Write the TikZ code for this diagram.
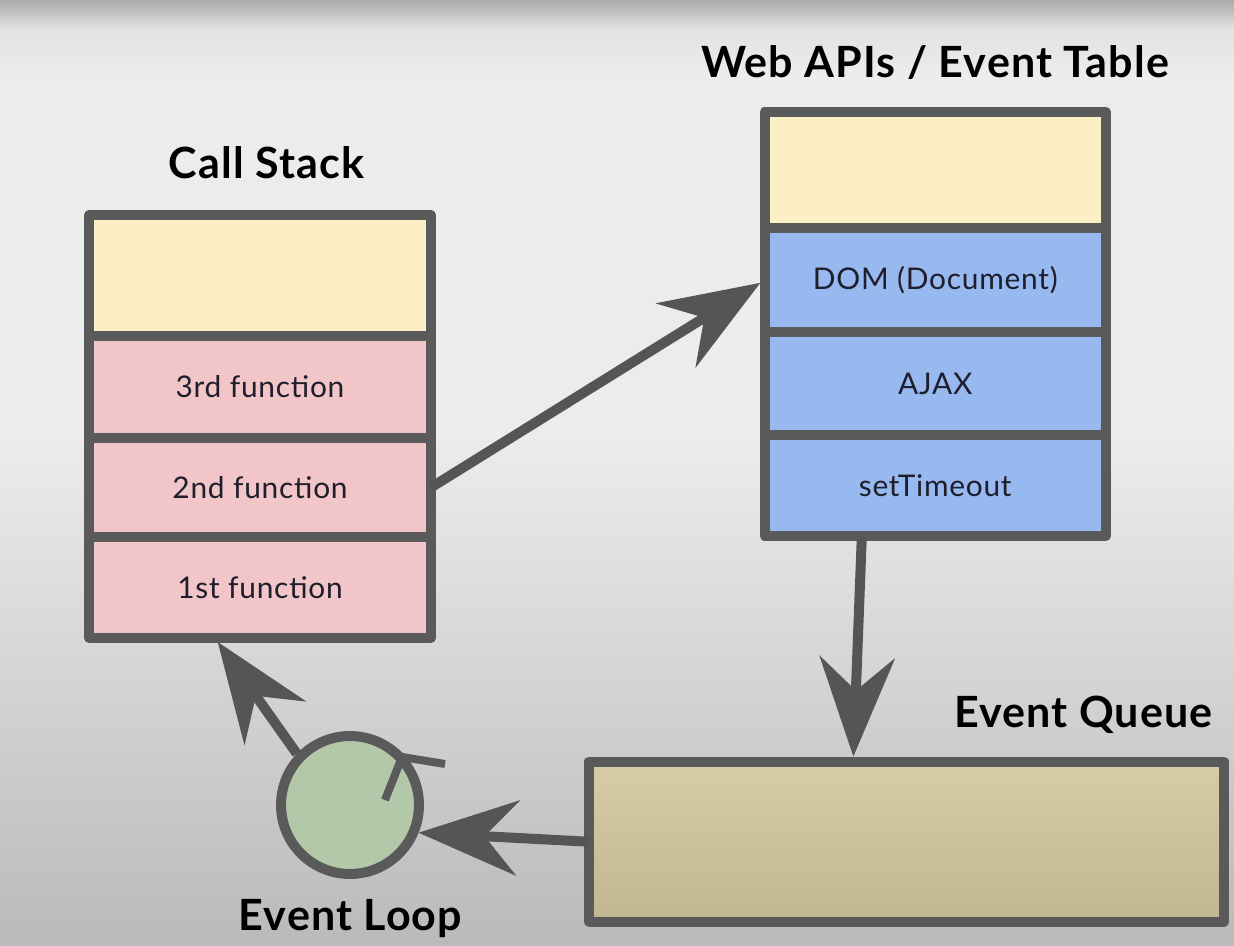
\documentclass[tikz,border=0pt]{standalone}
\usepackage{fontspec}
\setmainfont{Lato}
\newfontfamily\wideLato[LetterSpace=2.5]{Lato}
\usetikzlibrary{positioning,calc,arrows.meta}
\definecolor{frameGray}{RGB}{90,90,90}
\definecolor{arrowGray}{RGB}{85,85,85}
\definecolor{cellYellow}{RGB}{252,239,197}
\definecolor{cellPink}{RGB}{242,198,200}
\definecolor{cellBlue}{RGB}{152,185,239}
\definecolor{queueTop}{RGB}{216,204,164}
\definecolor{queueBot}{RGB}{194,182,147}
\definecolor{loopGreen}{RGB}{178,200,168}
\definecolor{textDark}{RGB}{30,30,45}
\definecolor{bgTop}{RGB}{170,170,170}
\definecolor{bgTopLight}{RGB}{226,226,226}
\definecolor{bgMid}{RGB}{236,236,236}
\definecolor{bgBottom}{RGB}{186,186,186}
\pgfdeclareverticalshading{bgFade}{100bp}{color(0bp)=(bgBottom); color(25bp)=(bgBottom); color(52bp)=(bgMid); color(71bp)=(bgMid); color(73.5bp)=(bgTopLight); color(75bp)=(bgTop); color(100bp)=(bgTop)}

\tikzset{
  cell/.style={draw=frameGray, line width=0.2cm, line join=round, outer sep=0pt,
    inner sep=0pt, font=\wideLato\fontsize{17}{20}\selectfont, text=textDark},
  title/.style={anchor=base, font=\wideLato\bfseries\fontsize{24.5}{28}\selectfont, text=black},
  flow/.style={draw=arrowGray, line width=0.2cm,
    -{Stealth[length=2cm, width=1.52cm, inset=0.68cm, line width=0pt]}},
}

\begin{document}
\begin{tikzpicture}[x=0.02cm, y=-0.02cm]
  % backdrop
  \shade[shading=bgFade] (0,0) rectangle (1234,946);
  \useasboundingbox (0,0) rectangle (1234,946);

  % Call Stack
  \node[cell, fill=cellYellow, minimum width=6.84cm, minimum height=2.42cm] (sTop) at (260,275.5) {};
  \node[cell, fill=cellPink, minimum width=6.84cm, minimum height=2.04cm, below=0pt of sTop] (s3) {3rd function};
  \node[cell, fill=cellPink, minimum width=6.84cm, minimum height=1.98cm, below=0pt of s3] (s2) {2nd function};
  \node[cell, fill=cellPink, minimum width=6.84cm, minimum height=2.02cm, below=0pt of s2] (s1) {1st function};
  \node[title] (tStack) at (266.5,178) {Call Stack};

  % Web APIs / Event Table
  \node[cell, fill=cellYellow, minimum width=6.83cm, minimum height=2.33cm] (wTop) at (935.25,170.25) {};
  \node[cell, fill=cellBlue, minimum width=6.83cm, minimum height=2.07cm, below=0pt of wTop] (w1) {DOM (Document)};
  \node[cell, fill=cellBlue, minimum width=6.83cm, minimum height=2.07cm, below=0pt of w1] (w2) {AJAX};
  \node[cell, fill=cellBlue, minimum width=6.83cm, minimum height=2.01cm, below=0pt of w2] (w3) {setTimeout};
  \node[title] (tWeb) at (935,78) {Web APIs / Event Table};

  % Event Queue
  \node[cell, top color=queueTop, bottom color=queueBot, minimum width=12.7cm, minimum height=3.21cm] (queue) at (906.5,841.75) {};
  \node[title] (tQueue) at (1083.5,727) {Event Queue};

  % Event Loop
  \node[circle, draw=frameGray, line width=0.2cm, fill=loopGreen, minimum size=2.76cm, inner sep=0pt] (loop) at (350,805) {};
  \draw[frameGray, line width=0.16cm] ($(loop)+(35,-5)$) -- ($(loop)+(52,-48)$) -- ($(loop)+(95,-41)$);
  \node[title] (tLoop) at (350.5,930) {Event Loop};

  % arrows
  \draw[flow, shorten >=0.1cm] (s2.east) -- (w1.west);
  \draw[flow, shorten >=0.1cm] ($(w3.south west)!0.285!(w3.south east)$) -- ($(queue.north west)!0.416!(queue.north east)$);
  \draw[flow] (queue.west) -- (loop.-22);
  \draw[flow, shorten >=0.1cm] (loop.136) -- ($(s1.south west)!0.368!(s1.south east)$);
\end{tikzpicture}
\end{document}
